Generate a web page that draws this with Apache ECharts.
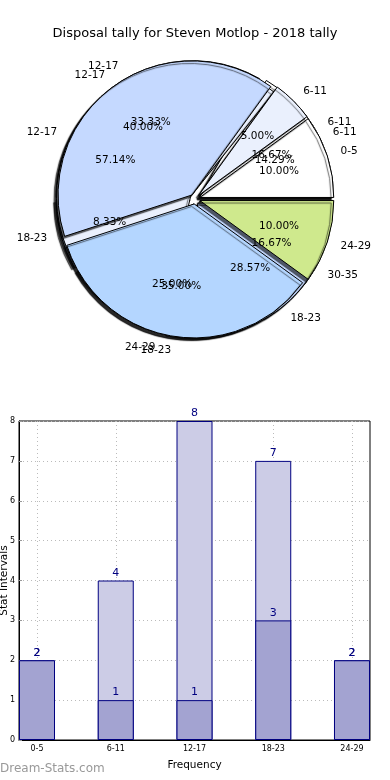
<!DOCTYPE html>
<html>
<head>
<meta charset="utf-8">
<script src="https://cdn.jsdelivr.net/npm/echarts@6/dist/echarts.min.js"></script>
<style>
html,body{margin:0;padding:0;background:#fff;}
#chart{width:390px;height:780px;}
</style>
</head>
<body>
<div id="chart"></div>
<script>
// ---- Pie data (three overlaid tallies) ----
const pieCatsA = ['6-11', '12-17', '18-23'];
const pieValsA = [1, 4, 2];
const pieCatsB = ['6-11', '12-17', '18-23', '24-29', '30-35'];
const pieValsB = [2, 4, 1, 3, 2];
const pieCatsC = ['0-5', '6-11', '12-17', '18-23', '24-29'];
const pieValsC = [2, 1, 8, 7, 2];
const sliceColors = ['#ffffff', '#eaf0fd', '#c5d9ff', '#b4d6ff', '#cfe98d'];

// ---- Bar data ----
const barCats = ['0-5', '6-11', '12-17', '18-23', '24-29'];
const barTotals = [2, 4, 8, 7, 2];
const barSub = [2, 1, 1, 3, 2];
const yTickMax = 8;

const FONT = 'DejaVu Sans';
const R = 134;
const CENTER = [195, 199];

function pieLayer(cats, vals, z) {
  const data = cats.map((c, i) => ({
    name: c, value: vals[i], selected: true,
    itemStyle: { color: sliceColors[i % sliceColors.length] }
  }));
  const wedge = {
    type: 'pie', center: CENTER, radius: R, startAngle: 0, clockwise: false,
    avoidLabelOverlap: false, selectedMode: 'multiple', selectedOffset: 5,
    z: z, animation: false, silent: true,
    labelLayout: { hideOverlap: false },
    itemStyle: {
      borderColor: '#000', borderWidth: 1,
      shadowColor: 'rgba(0,0,0,0.6)', shadowBlur: 1, shadowOffsetX: -2.5, shadowOffsetY: 2.5
    },
    label: { position: 'outside', formatter: '{b}', fontSize: 10.5, color: '#000', fontFamily: FONT, distanceToLabelLine: 0 },
    labelLine: { show: false, length: 14, length2: 0 },
    emphasis: { disabled: true },
    data: data
  };
  const pct = {
    type: 'pie', center: CENTER, radius: [R * 0.2, R], startAngle: 0, clockwise: false,
    avoidLabelOverlap: false, selectedMode: 'multiple', selectedOffset: 5,
    z: 20, animation: false, silent: true,
    labelLayout: { hideOverlap: false },
    itemStyle: { color: 'rgba(0,0,0,0)', borderWidth: 0 },
    label: { position: 'inside', formatter: p => p.percent.toFixed(2) + '%', fontSize: 10.5, color: '#000', fontFamily: FONT },
    labelLine: { show: false },
    emphasis: { disabled: true },
    data: cats.map((c, i) => ({ name: c, value: vals[i], selected: true }))
  };
  return [wedge, pct];
}

const barLabel = { show: true, position: 'top', distance: 2, color: '#000080', fontSize: 11, fontFamily: FONT };

const option = {
  backgroundColor: '#fff',
  animation: false,
  title: {
    text: 'Disposal tally for Steven Motlop - 2018 tally',
    left: 'center', top: 22,
    textStyle: { fontSize: 13, fontWeight: 'normal', color: '#000', fontFamily: FONT }
  },
  grid: { left: 19, right: 20, top: 421, bottom: 40, show: true, borderColor: '#000', borderWidth: 1, containLabel: false, outerBoundsMode: 'none' },
  xAxis: {
    type: 'value', min: -0.2286, max: 4.2286,
    name: 'Frequency', nameLocation: 'middle', nameGap: 20, nameMoveOverlap: false,
    nameTextStyle: { fontSize: 10.5, color: '#000', fontFamily: FONT },
    axisLine: { show: true, onZero: false, lineStyle: { color: '#000' } },
    axisTick: { show: true, inside: true, length: 3, customValues: [0, 1, 2, 3, 4], lineStyle: { color: '#999' } },
    axisLabel: { customValues: [0, 1, 2, 3, 4], formatter: v => barCats[Math.round(v)], fontSize: 8, color: '#000', fontFamily: FONT, margin: 5 },
    splitLine: { show: true, lineStyle: { color: '#bbb', type: [1, 3] } }
  },
  yAxis: {
    type: 'value', min: 0, max: yTickMax, interval: 1,
    name: 'Stat Intervals', nameLocation: 'middle', nameGap: 9, nameMoveOverlap: false,
    nameTextStyle: { fontSize: 10.5, color: '#000', fontFamily: FONT },
    axisLine: { show: true, onZero: false, lineStyle: { color: '#000' } },
    axisTick: { show: true, inside: true, length: 3, lineStyle: { color: '#999' } },
    axisLabel: { fontSize: 8, color: '#000', fontFamily: FONT, margin: 4 },
    splitLine: { show: true, lineStyle: { color: '#bbb', type: [1, 3] } }
  },
  graphic: [{
    type: 'text', left: 0, top: 763,
    style: { text: 'Dream-Stats.com', fill: '#999', font: '12px "DejaVu Sans"' }
  }],
  series: [
    ...pieLayer(pieCatsB, pieValsB, 2),
    ...pieLayer(pieCatsA, pieValsA, 3),
    ...pieLayer(pieCatsC, pieValsC, 4),
    {
      type: 'bar', barWidth: 36, barGap: '-100%', z: 2,
      labelLayout: { hideOverlap: false },
      itemStyle: { color: '#ccccE6', borderColor: '#000080', borderWidth: 1 },
      label: barLabel,
      data: barTotals.map((v, i) => [i, v])
    },
    {
      type: 'bar', barWidth: 36, barGap: '-100%', z: 3,
      labelLayout: { hideOverlap: false },
      itemStyle: { color: '#a3a3d1', borderColor: '#000080', borderWidth: 1 },
      label: barLabel,
      data: barSub.map((v, i) => [i, v])
    }
  ]
};

const chart = echarts.init(document.getElementById('chart'), null, { renderer: 'canvas' });
chart.setOption(option);
</script>
</body>
</html>
